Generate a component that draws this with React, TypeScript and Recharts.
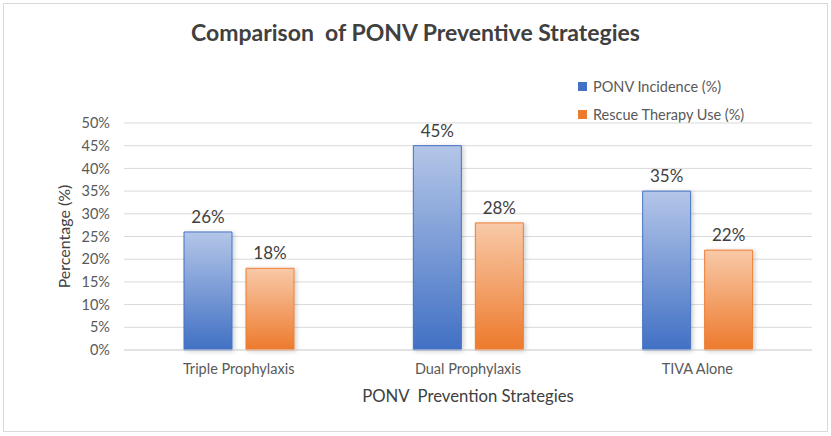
import { BarChart, Bar, XAxis, YAxis, CartesianGrid, LabelList, Label } from 'recharts';

const categories = ['Triple Prophylaxis', 'Dual Prophylaxis', 'TIVA Alone'];
const ponvIncidence = [26, 45, 35];
const rescueTherapyUse = [18, 28, 22];
const yTicks = [0, 5, 10, 15, 20, 25, 30, 35, 40, 45, 50];

const series = [
  { key: 'ponv', name: 'PONV Incidence (%)', values: ponvIncidence, top: '#b4c6e8', bottom: '#4170c4', stroke: '#4472c4', grad: 'gradBlue' },
  { key: 'rescue', name: 'Rescue Therapy Use (%)', values: rescueTherapyUse, top: '#f8c9a8', bottom: '#ed7a2c', stroke: '#ed7d31', grad: 'gradOrange' },
];

const data = categories.map((name, i) => ({
  name,
  ponv: ponvIncidence[i],
  rescue: rescueTherapyUse[i],
}));

const FONT = 'Lato, "Open Sans", sans-serif';

export default function App() {
  return (
    <div style={{ position: 'absolute', left: 0, top: 0, width: 831, height: 436, background: '#fff', fontFamily: FONT }}>
      <div style={{ position: 'absolute', left: 3, top: 3, width: 823, height: 427, border: '1px solid #d9d9d9' }} />
      <div
        style={{
          position: 'absolute', left: 0, top: 18, width: 831, textAlign: 'center',
          fontSize: 23, fontWeight: 700, color: '#404040', whiteSpace: 'pre', lineHeight: '28px',
        }}
      >
        {'Comparison  of PONV Preventive Strategies'}
      </div>
      <div style={{ position: 'absolute', left: 578, top: 76, fontSize: 14.5, color: '#595959' }}>
        {series.map((s) => (
          <div key={s.key} style={{ display: 'flex', alignItems: 'center', height: 20, marginBottom: 8 }}>
            <span style={{ display: 'inline-block', width: 7, height: 7, background: s.bottom, border: `1px solid ${s.stroke}`, marginRight: 6 }} />
            {s.name}
          </div>
        ))}
      </div>
      <BarChart
        width={831}
        height={436}
        data={data}
        margin={{ top: 123, right: 19, bottom: 0, left: 0 }}
        barSize={48}
        barGap={14}
        style={{ position: 'absolute', left: 0, top: 0 }}
      >
        <defs>
          {series.map((s) => (
            <linearGradient key={s.grad} id={s.grad} x1="0" y1="0" x2="0" y2="1">
              <stop offset="0%" stopColor={s.top} />
              <stop offset="100%" stopColor={s.bottom} />
            </linearGradient>
          ))}
          <filter id="barShadow" x="-20%" y="-10%" width="150%" height="120%">
            <feDropShadow dx="2" dy="1" stdDeviation="2" floodColor="#000" floodOpacity="0.18" />
          </filter>
        </defs>
        <CartesianGrid vertical={false} stroke="#d9d9d9" />
        <XAxis
          dataKey="name"
          height={86}
          axisLine={{ stroke: '#d9d9d9' }}
          tickLine={false}
          tickSize={0}
          tickMargin={14}
          tick={{ fill: '#595959', fontSize: 14.5, fontFamily: FONT }}
        >
          <Label
            content={({ viewBox }: any) => (
              <text
                x={viewBox.x + viewBox.width / 2}
                y={viewBox.y + 52}
                textAnchor="middle"
                fill="#404040"
                fontSize={16.7}
                fontFamily={FONT}
                style={{ whiteSpace: 'pre' }}
              >
                {'PONV  Prevention Strategies'}
              </text>
            )}
          />
        </XAxis>
        <YAxis
          width={124}
          domain={[0, 50]}
          ticks={yTicks}
          interval={0}
          tickFormatter={(v: number) => `${v}%`}
          axisLine={false}
          tickLine={false}
          tickSize={0}
          tickMargin={14}
          tick={{ fill: '#595959', fontSize: 14.5, fontFamily: FONT }}
        >
          <Label
            content={({ viewBox }: any) => {
              const cx = 70;
              const cy = viewBox.y + viewBox.height / 2;
              return (
                <text
                  x={cx}
                  y={cy}
                  transform={`rotate(-90 ${cx} ${cy})`}
                  textAnchor="middle"
                  fill="#404040"
                  fontSize={16}
                  fontFamily={FONT}
                >
                  Percentage (%)
                </text>
              );
            }}
          />
        </YAxis>
        {series.map((s) => (
          <Bar
            key={s.key}
            dataKey={s.key}
            name={s.name}
            fill={`url(#${s.grad})`}
            stroke={s.stroke}
            strokeWidth={1}
            filter="url(#barShadow)"
            isAnimationActive={false}
          >
            <LabelList
              dataKey={s.key}
              position="top"
              offset={9}
              formatter={(v: any) => `${v}%`}
              fill="#404040"
              fontSize={17}
              fontFamily={FONT}
            />
          </Bar>
        ))}
      </BarChart>
    </div>
  );
}
